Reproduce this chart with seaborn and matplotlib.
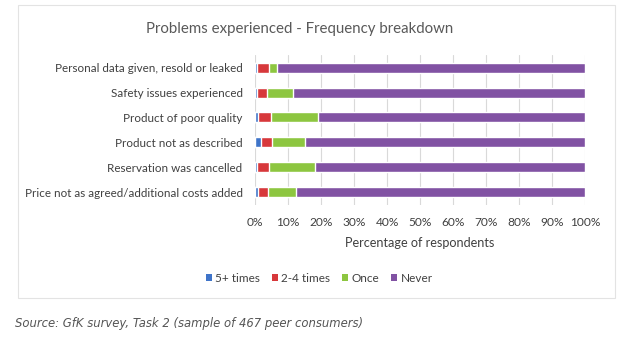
import matplotlib
matplotlib.use("Agg")
import matplotlib.pyplot as plt
from matplotlib.patches import Rectangle
from matplotlib.ticker import PercentFormatter
import seaborn as sns
import pandas as pd
import numpy as np

# Survey categories (top to bottom) and share of respondents per frequency, in %
categories = [
    "Personal data given, resold or leaked",
    "Safety issues experienced",
    "Product of poor quality",
    "Product not as described",
    "Reservation was cancelled",
    "Price not as agreed/additional costs added",
]
five_plus = [0.7, 0.7, 1.0, 1.8, 0.7, 0.8]
two_to_four = [3.5, 3.0, 3.8, 3.3, 3.6, 3.0]
once = [2.4, 7.7, 14.3, 10.0, 13.9, 8.6]
never = [93.4, 88.6, 80.9, 84.9, 81.8, 87.6]

series_names = ["5+ times", "2-4 times", "Once", "Never"]
series_colors = ["#3F74C9", "#D7383B", "#8DC640", "#8152A3"]

df = pd.DataFrame({"category": categories, "5+ times": five_plus,
                   "2-4 times": two_to_four, "Once": once, "Never": never})
cum = df[series_names].cumsum(axis=1)
cum["category"] = df["category"]

sns.set_theme(style="white")
plt.rcParams["font.family"] = ["Lato", "DejaVu Sans"]

fig = plt.figure(figsize=(6.41, 3.42), dpi=100)
ax = fig.add_axes([0.398, 0.401, 0.515, 0.438])

# stacked bars: draw cumulative totals from the outermost segment inwards
for name, color in reversed(list(zip(series_names, series_colors))):
    sns.barplot(data=cum, x=name, y="category", orient="h", color=color,
                width=0.4, ax=ax, saturation=1, legend=False)

ax.set_xlim(0, 100)
ax.set_xticks(np.arange(0, 101, 10))
ax.xaxis.set_major_formatter(PercentFormatter(decimals=0))
ax.grid(axis="x", color="#D9D9D9", linewidth=0.8)
ax.set_axisbelow(True)
for s in ax.spines.values():
    s.set_visible(False)
ax.tick_params(axis="both", length=0, colors="#404040")
ax.tick_params(axis="y", pad=9, labelsize=8.35)
ax.tick_params(axis="x", pad=9, labelsize=8.6)
ax.set_ylabel("")
ax.set_xlabel("Percentage of respondents", fontsize=9.1, color="#404040", labelpad=6)

handles = [Rectangle((0, 0), 1, 1, facecolor=c, edgecolor="none") for c in series_colors]
fig.legend(handles, series_names,
           loc="center", bbox_to_anchor=(0.498, 0.187), ncol=4, frameon=False,
           fontsize=8.5, handlelength=0.5, handleheight=0.5, handletextpad=0.3,
           columnspacing=1.0, labelcolor="#404040")

fig.text(0.468, 0.915, "Problems experienced - Frequency breakdown",
         ha="center", va="center", fontsize=10.8, color="#595959")

# light frame around the chart area
fig.add_artist(Rectangle((18 / 641, 1 - 298 / 342), (615 - 18) / 641, (298 - 5) / 342,
                         transform=fig.transFigure, fill=False,
                         edgecolor="#E3E3E3", linewidth=0.8))

fig.text(15 / 641, 1 - 324 / 342,
         "Source: GfK survey, Task 2 (sample of 467 peer consumers)",
         ha="left", va="center", fontsize=8.4, style="italic", color="#555555",
         family=["DejaVu Sans"])

fig.savefig("out.png", dpi=100)
